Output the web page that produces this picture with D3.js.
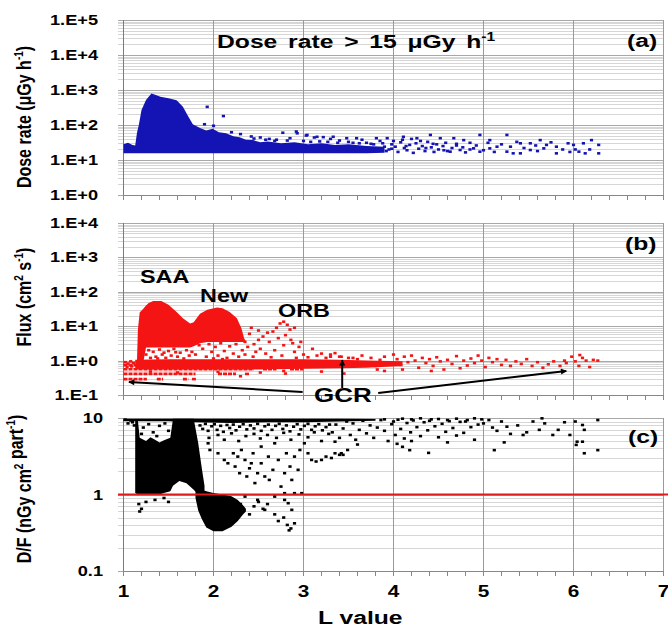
<!DOCTYPE html>
<html>
<head>
<meta charset="utf-8">
<script src="https://cdn.jsdelivr.net/npm/d3@7"></script>
<style>
  body { margin: 0; background: #fff; }
  text { font-family: "Liberation Sans", Arial, sans-serif; font-weight: bold; fill: #000; }
</style>
</head>
<body>
<script>
// ---- data ----
const lTicks = [1, 2, 3, 4, 5, 6, 7];
const doseTicks = [1, 10, 100, 1e3, 1e4, 1e5];
const doseTickLabels = ["1.E+0", "1.E+1", "1.E+2", "1.E+3", "1.E+4", "1.E+5"];
const fluxTicks = [0.1, 1, 10, 100, 1e3, 1e4];
const fluxTickLabels = ["1.E-1", "1.E+0", "1.E+1", "1.E+2", "1.E+3", "1.E+4"];
const dfTicks = [0.1, 1, 10];
const dfTickLabels = ["0.1", "1", "10"];
const dfLimit = 1;

// (a) dose rate: dense cloud as [L, low, high], then single points [L, value]
const doseCloud = [[1.0,15.5,28],[1.05,15.5,31],[1.1,15.5,27],[1.13,15.5,26],[1.15,15.5,60],[1.17,15.5,100],[1.2,15.5,270],[1.25,15.5,520],[1.31,15.5,790],[1.36,15.5,720],[1.41,15.5,640],[1.5,15.5,580],[1.59,15.5,510],[1.66,15.5,330],[1.72,15.5,175],[1.77,15.5,105],[1.85,15.5,82],[1.92,15.5,70],[1.99,15.5,78],[2.06,15.5,62],[2.14,15.5,58],[2.22,15.5,48],[2.29,15.5,45],[2.36,15.5,38],[2.44,15.5,37],[2.52,15.5,32],[2.6,15.5,34],[2.75,15.5,30],[2.9,15.5,32],[3.05,15.5,28],[3.2,15.5,30],[3.35,15.5,27],[3.5,15.5,28],[3.7,15.5,25],[3.9,16,24]];
const dosePoints = [[1.93,330],[2.11,180],[2.0,95],[1.9,105],[2.2,62],[2.3,55],[2.42,47],[2.52,44],[2.62,40],[2.77,60],[2.92,65],[2.7,38],[2.85,42],[3.03,50],[3.12,44],[3.22,45],[3.3,40],
  [2.93,58],[3.04,52],[3.15,46],[3.33,46],[3.48,42],[3.59,42],[3.81,42],[3.93,42],[4.11,46],[4.26,42],[4.41,52],[4.52,42],[4.67,42],[4.78,37],[4.96,52],[5.07,37],[5.26,52],[5.41,30],[5.52,30],[5.63,37],[5.7,27],[5.81,24],[5.94,30],[6.0,27],[6.11,30],[6.2,37],[6.28,27],
  [4.63,17.3],[4.74,19.3],[4.89,21.5],[4.96,17.3],[5.07,21.5],[5.15,24],[5.26,17.3],[5.33,15.5],[5.41,15.5],[5.52,19.3],[5.67,21.5],[5.81,15.5],[6.06,17.3],[6.13,15.5],[6.28,15.5],[5.96,17],[6.02,20],[5.58,26],[5.2,28],[4.85,31],[4.7,26],
  [3.95,20],[3.98,28],[4.02,24],[4.05,17],[4.08,32],[4.12,22],[4.15,19],[4.18,27],[4.22,16],[4.25,30],[4.28,21],[4.32,25],[4.35,18],[4.38,33],[4.42,23],[4.45,17],[4.48,28],[4.5,20],[4.55,25],[4.58,31],[4.6,18],[4.65,22],[4.7,29],[4.77,23],[4.8,16.5],[4.85,20],[4.92,26],[5.0,19],[5.05,31],[5.12,17],[5.3,24],[5.37,33],[5.45,22],[5.6,18],[5.75,32],[5.88,20],[6.18,20],
  [3.4,36],[3.5,33],[3.65,38],[3.7,31],[3.85,35],[3.75,29],[3.9,24],[3.92,18],[3.88,30],[4.0,35],[4.1,38],[4.3,35],[4.2,40],
  [2.45,41],[2.58,38],[2.68,35],[2.82,36],[3.0,35],[3.08,33],[3.18,34],[3.27,33],[3.38,31],[3.55,31],[3.62,30],[3.78,28],[3.98,21],[4.14,25],[4.36,22],[4.44,29],[4.56,19]];

// (b) flux: SAA + New humps, dense band, quantized streaks [L1, L2, value], points
const fluxHumps = [[1.15,0.9,1.0],[1.16,0.9,8],[1.18,0.9,25],[1.22,0.9,32],[1.25,2.4,40],[1.28,2.4,47],[1.33,2.4,54],[1.42,2.4,54],[1.5,2.4,42],[1.59,2.4,26],[1.66,2.4,17],[1.74,2.4,12],[1.78,2.6,13],[1.85,3.2,23],[1.93,3.5,30],[2.04,3.5,35],[2.1,3.5,33],[2.18,3.5,26],[2.26,3.5,17],[2.31,3.5,8.7],[2.34,3.5,4.5],[2.36,3.5,3.6]];
const fluxBand = [[1.13,0.55,1.05],[1.5,0.55,1.1],[2.0,0.55,1.1],[2.5,0.55,1.1],[3.0,0.58,1.1],[3.4,0.6,1.05],[3.7,0.62,1.0],[4.1,0.7,0.95]];
const fluxStreaks = [[1.0,1.15,0.74],[1.0,2.45,0.56],[2.55,2.7,0.56],[2.85,3.0,0.56],[1.0,1.8,0.41],[2.05,2.25,0.41],[2.35,2.4,0.41],[1.0,1.26,0.29],[1.37,1.44,0.29],[1.66,1.72,0.29],[1.76,1.81,0.29]];
const fluxPoints = [[1.25,1.5],[1.28,2.0],[1.3,1.2],[1.33,1.8],[1.36,1.3],[1.4,2.1],[1.43,1.5],[1.47,1.2],[1.5,1.9],[1.53,1.4],[1.56,2.2],[1.6,1.3],[1.63,1.7],[1.67,1.15],[1.7,2.0],[1.73,1.4],[1.76,1.8],[1.38,1.15],[1.58,1.75],[1.45,1.7],
  [1.8,1.5],[1.84,2.8],[1.88,2.2],[1.92,1.3],[1.95,3.0],[1.98,1.8],[2.02,2.5],[2.05,1.4],[2.08,3.2],[2.12,1.9],[2.15,1.2],[2.18,2.6],[2.22,1.6],[2.25,3.0],[2.28,1.3],[2.32,2.0],[2.35,1.5],[2.0,1.15],[2.1,1.1],
  [2.78,13.5],[2.74,12],[2.82,11],[2.7,9],[2.85,8],[2.66,7],[2.6,6.5],[2.9,9],[2.55,5],[2.5,4],[2.62,3.5],[2.72,4.5],[2.8,5.5],[2.88,3.2],[2.95,2.5],[2.45,3],[2.4,6],[2.35,3.5],[2.52,2.2],[2.68,2],[2.78,2.8],[2.9,1.8],[3.0,1.5],[3.1,2.2],[3.2,1.6],[3.3,1.3],[2.58,1.6],[2.47,1.8],[2.38,2.5],[2.86,4],[2.97,3.5],[2.42,9],[2.5,7.5],[2.3,5.5],[2.44,1.3],[2.64,1.25],[2.76,1.4],[2.92,1.2],[3.05,1.25],[3.15,1.4],[3.25,1.2],[3.4,1.3],[3.55,1.2],
  [1.02,0.9],[1.05,0.82],[1.08,0.95],[1.11,0.85],[1.04,0.65],[1.09,0.68],
  [1.3,0.48],[1.6,0.45],[2.05,0.47],[2.3,0.35],[2.52,0.45],[2.78,0.5],[2.8,0.42],[3.2,0.48],[3.45,0.42],[3.9,0.5],
  [3.3,1.5],[3.35,1.65],[3.42,1.3],[3.45,0.9],[3.5,1.2],[3.55,0.75],[3.6,1.1],[3.65,1.4],[3.7,0.85],[3.75,1.2],[3.8,0.7],[3.85,1.05],[3.9,1.3],[3.95,0.8],[4.0,1.5],[4.04,1.1],[4.08,0.75],[4.12,1.3],[4.16,0.9],[4.2,1.4],[4.24,1.0],[4.28,0.62],[4.32,1.2],[4.36,0.85],[4.4,1.1],[4.44,0.7],[4.48,1.25],[4.52,0.95],[4.56,0.55],[4.6,1.05],[4.65,0.8],[4.7,1.35],[4.74,0.6],[4.78,1.0],[4.82,0.72],[4.86,1.15],[4.9,0.85],[4.94,1.4],[4.98,1.0],[5.02,0.65],[5.06,1.2],[5.1,0.9],[5.15,1.1],[5.2,0.75],[5.25,1.05],[5.3,0.7],[5.36,0.95],[5.42,0.8],[5.48,1.1],[5.54,0.7],[5.6,0.9],[5.66,0.62],[5.72,0.78],[5.78,0.95],[5.85,0.7],[5.92,0.85],[5.98,1.3],[6.02,0.95],[6.06,0.7],[6.1,1.2],[6.14,1.0],[6.18,0.65],[6.22,1.05],[6.27,1.0],[6.07,1.45],[5.9,1.0],[4.42,0.5],[4.1,0.55],[3.82,0.55]];

// (c) D/F ratio: dense clouds and points
const dfCloudMain = [[1.13,1.05,9.5],[1.16,1.0,9.3],[1.18,1.0,5.5],[1.25,1.0,5.0],[1.3,1.0,5.6],[1.35,1.0,5.2],[1.4,1.0,4.8],[1.45,1.05,5.1],[1.52,1.1,5.5],[1.55,1.3,9.8],[1.62,1.5,9.8],[1.7,1.4,9.8],[1.78,1.15,9.8],[1.83,1.0,4.7],[1.87,0.95,2.2],[1.9,0.9,1.3]];
const dfCloudDip = [[1.8,0.9,1.2],[1.83,0.62,1.2],[1.87,0.48,1.15],[1.92,0.37,1.1],[2.0,0.33,1.05],[2.1,0.33,1.0],[2.2,0.38,0.95],[2.27,0.45,0.85],[2.33,0.55,0.72],[2.36,0.6,0.65]];
const dfCloudTop = [[1.0,9.1,9.8],[1.5,9.1,9.8],[1.8,8.8,9.8],[2.2,8.6,9.8],[2.6,8.8,9.8],[3.0,8.8,9.8],[3.4,9.0,9.8],[3.8,9.2,9.7]];
const dfPoints = [[1.94,4.67],[1.96,3.82],[2.05,3.46],[2.12,2.83],[2.16,2.56],[2.22,3.46],[2.24,2.32],[2.27,3.13],[2.29,1.9],[2.31,3.82],[2.35,2.83],[2.37,1.72],[2.4,2.2],[2.42,2.56],[2.44,3.46],[2.46,1.41],[2.49,1.9],[2.53,4.23],[2.53,2.56],[2.57,1.72],[2.61,3.13],[2.62,1.55],[2.66,2.1],[2.68,4.67],[2.72,2.83],[2.75,1.27],[2.79,1.9],[2.81,3.46],[2.85,2.32],[2.87,1.55],[2.9,3.13],[2.94,2.1],[2.96,3.82],[2.98,1.04],[3.01,4.67],[3.05,3.46],[3.09,2.83],[3.14,2.7],[3.2,2.83],[3.25,3.13],[3.31,3.0],[3.35,3.46],[3.42,3.46],[3.49,3.82],
  [2.05,0.85],[2.16,0.77],[2.35,0.94],[2.49,0.85],[2.57,0.63],[2.68,0.94],[2.79,1.04],[2.79,0.85],[2.83,0.77],[2.87,0.63],[2.9,1.04],
  [2.72,0.45],[2.78,0.5],[2.82,0.4],[2.86,0.36],[2.9,0.42],[2.84,0.34],[2.68,0.55],[2.45,0.7],[2.5,0.8],[2.55,0.65],[2.6,0.75],[1.17,0.75],[1.2,0.65],[1.25,0.8],[1.35,0.85],[1.45,0.9],[1.5,0.8],[1.18,0.6],[2.4,0.55],[2.3,0.75],
  [1.95,5.5],[2.05,6.0],[2.12,5.2],[2.2,6.3],[2.28,5.0],[2.36,5.8],[2.45,6.2],[2.52,5.4],[2.6,6.0],[2.7,5.5],[2.78,6.4],[2.86,5.2],[2.95,6.1],[3.05,5.6],[3.12,6.5],[3.2,5.0],[3.28,6.2],[1.02,9.5],[1.05,8.5],[1.08,9.3],[1.1,8.8],[1.12,8.0],
  [1.85,8.0],[1.88,7.2],[1.91,8.4],[1.94,6.8],[1.98,7.8],[2.01,8.3],[2.04,7.0],[2.08,7.9],[2.11,6.6],[2.15,8.1],[2.18,7.4],[2.22,8.2],[2.25,6.9],[2.29,7.7],[2.33,8.3],[2.37,7.1],[2.41,8.0],[2.45,7.3],[2.49,8.4],[2.53,6.8],[2.57,7.8],[2.61,8.2],[2.65,7.0],[2.69,7.9],[2.73,8.4],[2.77,7.2],[2.81,8.0],[2.85,6.7],[2.89,7.7],[2.93,8.3],[2.97,7.1],[3.01,7.9],[3.05,8.4],[3.09,7.0],[3.13,7.8],[3.17,8.3],[3.21,6.9],[3.25,7.6],[3.29,8.2],
  [1.22,7.5],[1.28,8.3],[1.33,6.5],[1.4,7.9],[1.46,8.5],[1.5,6.8],[1.2,6.2],[1.37,5.8],
  [3.32,6.5],[3.36,8.2],[3.4,5.5],[3.44,7.3],[3.48,9.0],[3.52,6.0],[3.55,8.5],[3.58,5.2],[3.62,7.0],[3.66,9.2],[3.7,6.3],[3.74,8.0],[3.78,5.5],[3.82,7.5],[3.86,9.4],[3.9,6.8],[3.94,5.0],[3.98,8.3],[4.02,6.0],[4.05,9.5],[4.08,7.2],[4.12,5.4],[4.15,8.6],[4.19,6.5],[4.22,9.3],[4.26,7.6],[4.3,5.8],[4.34,8.8],[4.38,6.9],[4.42,9.6],[4.46,7.8],[4.5,5.6],[4.54,8.4],[4.58,6.6],[4.62,9.1],[4.66,7.4],[4.7,5.9],[4.74,8.9],[4.78,6.4],[4.82,9.4],[4.86,7.6],[4.9,5.2],[4.94,8.2],[4.98,9.6],[4.04,4.6],[4.2,5.0],[4.6,4.8],[3.6,4.5],[3.35,4.9],[3.4,3.3],[3.44,3.3],[4.1,4.2],[4.18,3.8],[4.39,3.5],
  [4.1,9.8],[4.3,9.9],[4.5,9.7],[4.7,9.8],[4.9,9.9],[4.4,9.2],[4.8,9.0],[3.9,9.6],[4.0,9.0],[4.2,9.6],[4.6,9.4],
  [5.0,8.5],[5.06,9.4],[5.12,3.8],[5.2,9.0],[5.23,4.8],[5.26,7.7],[5.3,6.2],[5.15,6.8],[5.1,7.5],[5.44,6.0],[5.55,9.0],[5.65,9.9],[5.68,8.5],[5.62,7.0],[5.77,6.0],[5.83,7.0],[5.96,6.0],[6.02,9.0],[6.1,8.1],[6.12,7.0],[6.03,4.45],[6.1,4.9],[6.12,3.46],[6.27,9.4],[6.27,3.8],[6.04,4.9],[5.38,8.0],[5.48,6.5],[5.9,8.8]];

// GCR arrows in (b), data coords [L, flux] -> [L, flux]
const gcrArrows = [[[2.99,0.122],[1.06,0.239]], [[3.43,0.16],[3.43,1.04]], [[3.83,0.114],[5.92,0.5]]];

// ---- drawing ----
const width = 668, height = 628;
const SX = 1.3; // the original picture is stretched sideways

const svg = d3.select("body").append("svg")
    .attr("width", width)
    .attr("height", height);

svg.append("defs").append("marker")
    .attr("id", "head")
    .attr("viewBox", "0 0 10 10")
    .attr("refX", 9).attr("refY", 5)
    .attr("markerWidth", 7).attr("markerHeight", 6)
    .attr("markerUnits", "userSpaceOnUse")
    .attr("orient", "auto")
  .append("path")
    .attr("d", "M0,0L10,5L0,10z")
    .attr("fill", "#000");

const x = d3.scaleLinear().domain([1, 7]).range([123.5, 663.5]);

const panels = [
  {y: d3.scaleLog().domain([1, 1e5]).range([195, 20]), ticks: doseTicks, labels: doseTickLabels, labelX: 98, color: "#1414b4",
   clouds: [doseCloud], points: dosePoints},
  {y: d3.scaleLog().domain([0.1, 1e4]).range([395, 223]), ticks: fluxTicks, labels: fluxTickLabels, labelX: 98, color: "#f51414",
   clouds: [fluxHumps, fluxBand], points: fluxPoints},
  {y: d3.scaleLog().domain([0.1, 10]).range([571, 418]), ticks: dfTicks, labels: dfTickLabels, labelX: 103, color: "#000",
   clouds: [dfCloudMain, dfCloudDip, dfCloudTop], points: dfPoints}
];

// stretched text helper
function label(g, str, px, py, size, anchor) {
  return g.append("text")
    .attr("transform", `translate(${px},${py}) scale(${SX},1)`)
    .attr("font-size", size)
    .attr("text-anchor", anchor || "start")
    .text(str);
}

panels.forEach((p, i) => {
  const g = svg.append("g");
  const [yb, yt] = p.y.range();

  // minor + major horizontal gridlines
  g.selectAll(".hg").data(p.y.ticks()).join("line")
    .attr("x1", 118).attr("x2", x(7))
    .attr("y1", d => Math.round(p.y(d)) + 0.5).attr("y2", d => Math.round(p.y(d)) + 0.5)
    .attr("stroke", d => p.ticks.includes(d) ? "#a8a8a8" : "#d6d6d6")
    .attr("stroke-width", 1);

  // vertical gridlines
  g.selectAll(".vg").data(lTicks).join("line")
    .attr("x1", d => x(d)).attr("x2", d => x(d))
    .attr("y1", yt).attr("y2", yb)
    .attr("stroke", d => d === 1 ? "#7a7a7a" : "#999")
    .attr("stroke-width", 1);

  // x axis line and minor ticks every 0.2
  g.append("line").attr("x1", x(1)).attr("x2", x(7)).attr("y1", yb + 0.5).attr("y2", yb + 0.5)
    .attr("stroke", "#888");
  g.selectAll(".xt").data(d3.range(1, 7.01, 0.2)).join("line")
    .attr("x1", d => x(d)).attr("x2", d => x(d))
    .attr("y1", yb).attr("y2", yb + 5)
    .attr("stroke", "#888");

  // dense clouds
  const area = d3.area().x(d => x(d[0])).y0(d => p.y(d[1])).y1(d => p.y(d[2]));
  p.clouds.forEach(c => g.append("path").attr("d", area(c)).attr("fill", p.color));

  // points
  g.selectAll(".pt").data(p.points).join("rect")
    .attr("x", d => x(d[0]) - 1.6).attr("y", d => p.y(d[1]) - 1.3)
    .attr("width", 3.2).attr("height", 2.6)
    .attr("fill", p.color);

  // y tick labels
  p.ticks.forEach((t, k) => label(g, p.labels[k], p.labelX, p.y(t) + 5, 14, "end"));
});

// quantized flux streaks in (b)
const yFlux = panels[1].y;
svg.append("g").selectAll("line").data(fluxStreaks).join("line")
  .attr("x1", d => x(d[0])).attr("x2", d => x(d[1]))
  .attr("y1", d => yFlux(d[2])).attr("y2", d => yFlux(d[2]))
  .attr("stroke", panels[1].color).attr("stroke-width", 2.6)
  .attr("stroke-dasharray", "4,1");

// red reference line in (c)
const yDF = panels[2].y;
svg.append("line")
  .attr("x1", 118).attr("x2", width)
  .attr("y1", yDF(dfLimit)).attr("y2", yDF(dfLimit))
  .attr("stroke", "#e01b1b").attr("stroke-width", 2);

// x tick labels and title
lTicks.forEach(t => label(svg, String(t), x(t), 597, 16, "middle"));
label(svg, "L value", 318, 624, 19);

// panel titles and tags
const t1 = label(svg, "Dose rate > 15 ", 217, 48, 19).attr("word-spacing", 3);
t1.append("tspan").text("\u03bcGy h");
t1.append("tspan").attr("dy", -7).attr("font-size", 12).text("-1");
label(svg, "(a)", 627, 47, 19);
label(svg, "(b)", 625, 250, 19);
label(svg, "(c)", 628, 443, 19);
label(svg, "SAA", 140, 283, 18);
label(svg, "New", 200, 302, 18);
label(svg, "ORB", 278, 317, 18);
label(svg, "GCR", 314, 402, 20);

// GCR arrows
svg.append("g").selectAll("line").data(gcrArrows).join("line")
  .attr("x1", d => x(d[0][0])).attr("y1", d => yFlux(d[0][1]))
  .attr("x2", d => x(d[1][0])).attr("y2", d => yFlux(d[1][1]))
  .attr("stroke", "#000").attr("stroke-width", 2)
  .attr("marker-end", "url(#head)");

// rotated y titles
function ytitle(parts, cy) {
  const t = svg.append("text")
    .attr("transform", `translate(31,${cy}) rotate(-90) scale(1,${SX})`)
    .attr("font-size", 16)
    .attr("text-anchor", "middle");
  parts.forEach(p => {
    const s = t.append("tspan").text(p[0]);
    if (p[1]) s.attr("dy", p[1]);
    if (p[2]) s.attr("font-size", p[2]);
  });
}
ytitle([["Dose rate (\u03bcGy h"], ["-1", -6, 10], [")", 6]], 117);
ytitle([["Flux (cm"], ["2", -6, 10], [" s", 6], ["-1", -6, 10], [")", 6]], 297);
ytitle([["D/F (nGy cm"], ["2", -6, 10], [" part"], ["-1", -6, 10], [")", 6]], 489);
</script>
</body>
</html>
